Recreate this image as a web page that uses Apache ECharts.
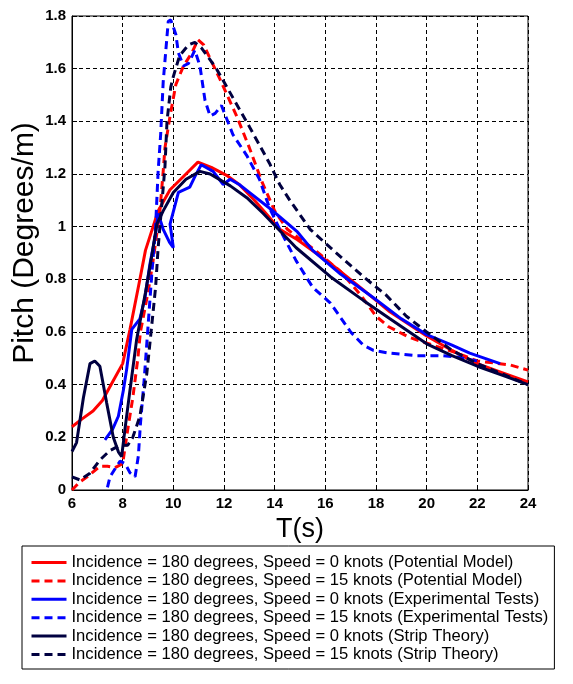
<!DOCTYPE html>
<html>
<head>
<meta charset="utf-8">
<script src="https://cdn.jsdelivr.net/npm/echarts@6/dist/echarts.min.js"></script>
<style>
html,body{margin:0;padding:0;background:#fff;}
#chart{width:573px;height:684px;}
</style>
</head>
<body>
<div id="chart"></div>
<script>
// Tick values
const xTicks = [6, 8, 10, 12, 14, 16, 18, 20, 22, 24];
const yTicks = [0, 0.2, 0.4, 0.6, 0.8, 1, 1.2, 1.4, 1.6, 1.8];

// Titles
const xTitle = 'T(s)';
const yTitle = 'Pitch (Degrees/m)';

// Series names
const seriesNames = [
  'Incidence = 180 degrees, Speed = 0 knots (Potential Model)',
  'Incidence = 180 degrees, Speed = 15 knots (Potential Model)',
  'Incidence = 180 degrees, Speed = 0 knots (Experimental Tests)',
  'Incidence = 180 degrees, Speed = 15 knots (Experimental Tests)',
  'Incidence = 180 degrees, Speed = 0 knots (Strip Theory)',
  'Incidence = 180 degrees, Speed = 15 knots (Strip Theory)'
];

// [T (s), Pitch (deg/m)]
const potentialV0 = [[6,0.24],[6.4,0.27],[6.83,0.30],[7.2,0.34],[7.6,0.41],[8.0,0.48],[8.29,0.61],[8.68,0.80],[8.9,0.91],[9.4,1.06],[9.87,1.14],[10.5,1.20],[10.97,1.245],[11.5,1.225],[12.1,1.195],[12.6,1.16],[13.2,1.10],[14.2,0.99],[14.9,0.95],[16.2,0.86],[17.5,0.76],[18.5,0.68],[20,0.585],[21,0.53],[22,0.48],[23,0.445],[24,0.41]];
const potentialV15 = [[6,0.0],[6.3,0.03],[6.6,0.05],[7.1,0.09],[7.4,0.09],[7.7,0.085],[8.0,0.10],[8.2,0.23],[8.4,0.35],[8.6,0.5],[8.7,0.6],[9.0,0.75],[9.2,0.87],[9.47,1.06],[9.6,1.21],[9.67,1.30],[9.87,1.42],[10.1,1.54],[10.4,1.61],[10.73,1.66],[10.97,1.71],[11.2,1.69],[11.84,1.56],[12.5,1.42],[13.0,1.30],[13.5,1.17],[14.0,1.06],[14.5,0.99],[14.9,0.96],[15.6,0.91],[16.6,0.83],[17.4,0.74],[18.0,0.66],[18.5,0.62],[19.3,0.58],[20.4,0.545],[21.2,0.52],[22,0.49],[23.3,0.475],[24,0.455]];
const experimentalV0 = [[7.3,0.19],[7.6,0.23],[7.83,0.28],[8.03,0.38],[8.16,0.46],[8.36,0.61],[8.68,0.65],[8.88,0.73],[9.08,0.86],[9.28,0.96],[9.4,1.05],[9.6,0.99],[9.85,0.94],[10.0,0.92],[9.87,1.01],[10.2,1.13],[10.65,1.15],[10.85,1.19],[11.1,1.235],[11.57,1.21],[11.97,1.16],[12.24,1.18],[12.6,1.16],[13.0,1.13],[13.8,1.07],[14.9,0.98],[15.5,0.91],[16.6,0.82],[17.9,0.73],[19,0.65],[20,0.59],[21,0.55],[21.7,0.52],[22.9,0.48]];
const experimentalV15 = [[7.4,0.01],[7.5,0.05],[7.76,0.09],[7.9,0.11],[8.1,0.10],[8.29,0.065],[8.49,0.05],[8.62,0.13],[8.7,0.25],[8.85,0.42],[9.0,0.62],[9.15,0.82],[9.3,1.0],[9.4,1.21],[9.5,1.35],[9.6,1.55],[9.8,1.78],[9.9,1.785],[10.1,1.73],[10.2,1.66],[10.4,1.61],[10.6,1.62],[10.85,1.67],[11.05,1.61],[11.25,1.48],[11.45,1.42],[11.65,1.43],[11.9,1.46],[12.35,1.35],[12.9,1.27],[13.4,1.18],[13.8,1.07],[14.2,0.99],[14.85,0.87],[15.5,0.77],[16.2,0.71],[17.0,0.60],[17.5,0.55],[17.9,0.53],[18.5,0.52],[19.6,0.51],[20.6,0.51],[21.2,0.505],[22,0.49]];
const stripV0 = [[6,0.146],[6.18,0.18],[6.45,0.35],[6.71,0.48],[6.9,0.49],[7.1,0.47],[7.37,0.33],[7.63,0.20],[7.83,0.145],[7.96,0.127],[8.09,0.23],[8.29,0.38],[8.55,0.57],[8.9,0.75],[9.15,0.89],[9.35,1.01],[9.6,1.06],[10.0,1.13],[10.5,1.18],[11.05,1.21],[11.45,1.20],[12.25,1.155],[12.9,1.11],[13.55,1.05],[14.85,0.92],[16.2,0.81],[17.5,0.72],[18.55,0.65],[20,0.555],[21,0.51],[22,0.47],[23,0.435],[24,0.40]];
const stripV15 = [[6,0.05],[6.32,0.038],[6.71,0.064],[7.1,0.114],[7.5,0.15],[7.9,0.17],[8.2,0.17],[8.4,0.2],[8.68,0.28],[8.95,0.44],[9.1,0.58],[9.3,0.77],[9.4,0.92],[9.55,1.09],[9.67,1.23],[9.75,1.40],[9.9,1.53],[10.0,1.57],[10.25,1.65],[10.6,1.69],[10.85,1.70],[11.1,1.68],[11.7,1.60],[12.35,1.49],[13.0,1.38],[13.8,1.24],[14.2,1.16],[14.6,1.10],[15.4,0.99],[16.2,0.92],[17.5,0.81],[18.4,0.74],[19.2,0.66],[20,0.60],[21,0.53],[22,0.48],[23,0.44],[24,0.40]];

const seriesData = [potentialV0, potentialV15, experimentalV0, experimentalV15, stripV0, stripV15];
const seriesColors = ['#ff0000', '#ff0000', '#0000ff', '#0000ff', '#000040', '#000040'];
const seriesDash = ['solid', [8,5], 'solid', [8,5], 'solid', [8,5]];

const FONT = 'Liberation Sans, Arial, sans-serif';
const chart = echarts.init(document.getElementById('chart'), null, {renderer: 'canvas'});

const series = seriesData.map((d, i) => ({
  name: seriesNames[i],
  type: 'line',
  data: d,
  symbol: 'none',
  smooth: false,
  clip: true,
  lineStyle: {color: seriesColors[i], width: 3, type: seriesDash[i]},
  itemStyle: {color: seriesColors[i]},
  emphasis: {disabled: true}
}));

chart.setOption({
  animation: false,
  backgroundColor: '#fff',
  grid: {left: 72, right: 45, top: 16, bottom: 194, show: true, borderColor: '#000', borderWidth: 1, backgroundColor: 'transparent'},
  xAxis: {
    type: 'value', min: xTicks[0], max: xTicks[xTicks.length-1], interval: 2,
    name: xTitle, nameLocation: 'middle', nameGap: 21,
    nameTextStyle: {fontFamily: FONT, fontSize: 27, color: '#000'},
    axisLine: {show: true, lineStyle: {color: '#000', width: 1}},
    axisTick: {show: true, inside: true, length: 5, lineStyle: {color: '#000'}},
    axisLabel: {fontFamily: FONT, fontSize: 15, fontWeight: 'bold', color: '#000', margin: 6},
    splitLine: {show: true, lineStyle: {color: '#000', width: 1, type: [4,3]}}
  },
  yAxis: {
    type: 'value', min: yTicks[0], max: yTicks[yTicks.length-1], interval: 0.2,
    axisLine: {show: true, lineStyle: {color: '#000', width: 1}},
    axisTick: {show: true, inside: true, length: 5, lineStyle: {color: '#000'}},
    axisLabel: {fontFamily: FONT, fontSize: 15, fontWeight: 'bold', color: '#000', margin: 6,
      formatter: v => String(+v.toFixed(1))},
    splitLine: {show: true, lineStyle: {color: '#000', width: 1, type: [4,3]}}
  },
  graphic: [{
    type: 'text',
    x: 25, y: 243,
    rotation: Math.PI / 2,
    style: {text: yTitle, font: '30px ' + FONT, fill: '#000', align: 'center', verticalAlign: 'middle'}
  }],
  legend: {
    show: true,
    orient: 'vertical',
    left: 22, top: 546,
    padding: [8, 6, 6, 8],
    itemGap: 1.4,
    itemWidth: 35, itemHeight: 12,
    backgroundColor: '#fff',
    borderColor: '#000', borderWidth: 1,
    selectedMode: false,
    textStyle: {fontFamily: FONT, fontSize: 16.6, color: '#000', lineHeight: 16, padding: [0,0,0,0]},
    lineStyle: {width: 3},
    itemStyle: {opacity: 0, borderWidth: 0},
    data: seriesNames
  },
  series: series
});
</script>
</body>
</html>
